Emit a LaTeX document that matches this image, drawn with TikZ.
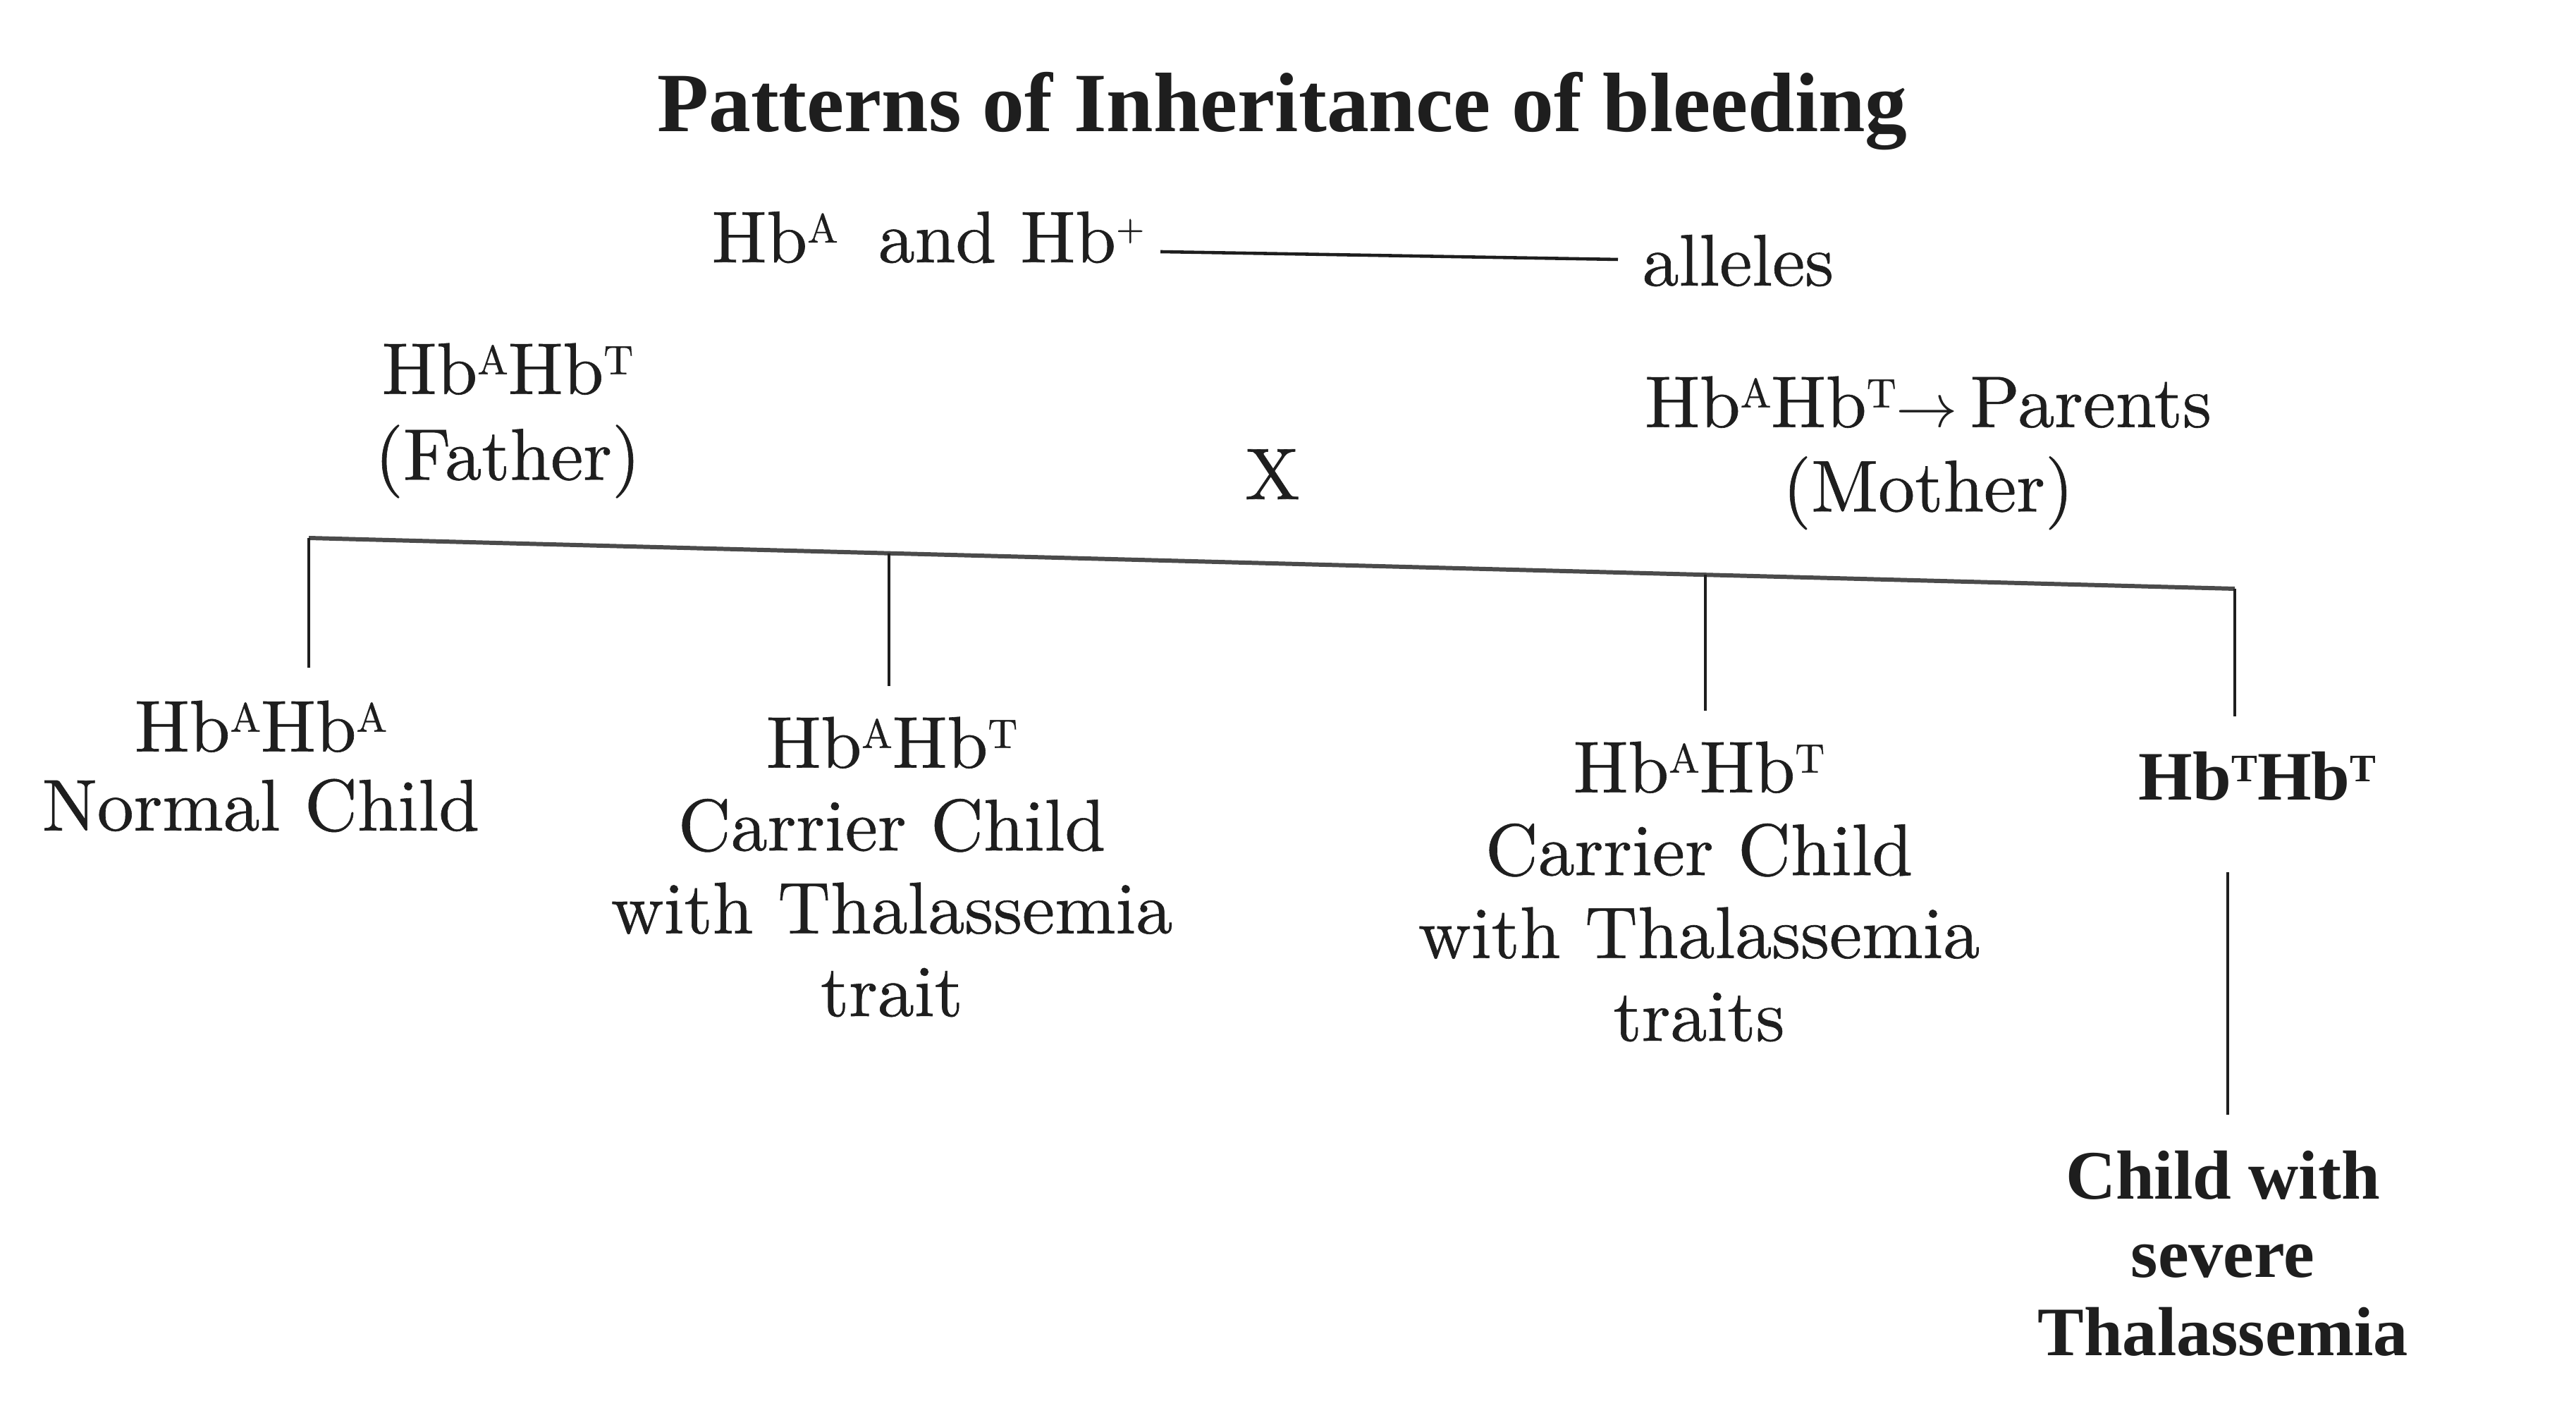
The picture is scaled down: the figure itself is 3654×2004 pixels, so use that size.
\documentclass[tikz,border=0pt]{standalone}
\usepackage{fontspec}
\setmainfont{lmroman10-regular}[Extension=.otf, BoldFont=lmroman10-bold, FakeBold=0.6]
\newfontfamily\timesf{Liberation Serif}
\definecolor{ink}{HTML}{1E1E1E}
\newcommand\sps[1]{\raisebox{0.27em}{\scalebox{0.56}{#1}}}
\newcommand\spp[1]{\raisebox{0.30em}{\scalebox{0.5}{#1}}}
\tikzset{
  txt/.style={inner sep=0pt, text=ink, font=\fontsize{29.5}{31.9}\selectfont},
  ctr/.style={txt, align=center},
  tall/.style={ctr, font=\fontsize{29.5}{33.4}\selectfont},
  bld/.style={inner sep=0pt, text=ink, align=center, font=\timesf\bfseries\fontsize{28}{31.6}\selectfont},
  link/.style={draw=ink, line width=0.9pt},
  barline/.style={draw=ink!80, line width=1.7pt},
}
\begin{document}
\begin{tikzpicture}[x=0.01cm,y=-0.01cm]
\useasboundingbox[fill=white] (0,0) rectangle (3654,2004);
% title
\node[bld, anchor=base, font=\timesf\bfseries\fontsize{34}{40}\selectfont] (title) at (1819,187) {Patterns of Inheritance of bleeding};
% alleles row
\node[txt, anchor=base west] (pair) at (1009,372) {Hb\sps{A}\hspace{0.55em}and Hb\spp{+}};
\node[txt, anchor=base west] (alleles) at (2329,405) {alleles};
\draw[link, line width=1.3pt] ([xshift=0.22cm,yshift=0.15cm]pair.base east) -- ([xshift=-0.34cm,yshift=0.37cm]alleles.base west);
% parents
\node[ctr, anchor=north, font=\fontsize{29.5}{34.6}\selectfont] (father) at (720,486) {Hb\sps{A}Hb\sps{T}\\(Father)};
\node[ctr, anchor=north, font=\fontsize{29.5}{34}\selectfont] (mother) at (2735,533) {Hb\sps{A}Hb\sps{T}$\rightarrow$\,Parents\\(Mother)};
\node[txt, anchor=base] (cross) at (1805,708) {X};
% children
\node[ctr, anchor=north] (c1) at (370,993) {Hb\sps{A}Hb\sps{A}\\Normal Child};
\node[tall, anchor=north] (c2) at (1265,1016) {Hb\sps{A}Hb\sps{T}\\Carrier Child\\with Thalassemia\\trait};
\node[tall, anchor=north] (c3) at (2410,1051) {Hb\sps{A}Hb\sps{T}\\Carrier Child\\with Thalassemia\\traits};
\node[bld, anchor=base] (c4) at (3202,1135) {Hb\sps{T}Hb\sps{T}};
\node[bld, anchor=north] (c5) at (3153,1631) {Child with\\severe\\Thalassemia};
% connectors
\coordinate (j1) at (438,763);
\coordinate (j2) at (1261,785);
\coordinate (j3) at (2419,815);
\coordinate (j4) at (3170,835);
\draw[barline] (j1) -- (j4);
\draw[link, shorten >=0.46cm] (j1) -- (j1 |- c1.north);
\draw[link, shorten >=0.43cm] (j2) -- (j2 |- c2.north);
\draw[link, shorten >=0.43cm] (j3) -- (j3 |- c3.north);
\draw[link, shorten >=0.50cm] (j4) -- (j4 |- c4.north);
\coordinate (v5) at (3160,1200);
\draw[link, shorten <=1.0cm, shorten >=0.5cm] (v5 |- c4.south) -- (v5 |- c5.north);
\end{tikzpicture}
\end{document}
